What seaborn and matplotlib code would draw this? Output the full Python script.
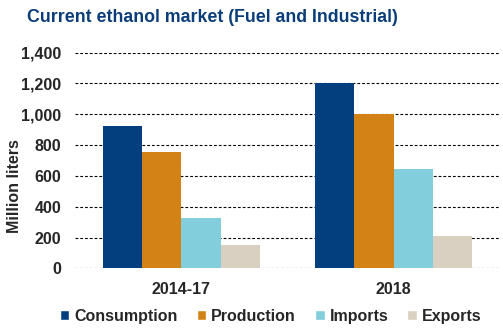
import matplotlib
matplotlib.use("Agg")
import matplotlib.pyplot as plt
import seaborn as sns
import pandas as pd
from matplotlib.patches import Patch

periods = ["2014-17", "2018"]
series = ["Consumption", "Production", "Imports", "Exports"]
consumption = [925, 1200]
production = [757, 1000]
imports = [328, 645]
exports = [152, 212]
colors = ["#033f7f", "#d38316", "#82cedd", "#d9d0c1"]
yticks = [0, 200, 400, 600, 800, 1000, 1200, 1400]

rows = []
for name, vals in zip(series, [consumption, production, imports, exports]):
    for p, v in zip(periods, vals):
        rows.append({"Period": p, "Series": name, "Value": v})
df = pd.DataFrame(rows)

sns.set_theme(style="white")
plt.rcParams["font.family"] = ["Liberation Sans", "DejaVu Sans"]

fig = plt.figure(figsize=(5.03, 3.31), dpi=100)
ax = fig.add_axes([0.149, 0.189, 0.845, 0.652])
sns.barplot(data=df, x="Period", y="Value", hue="Series", palette=colors,
            order=periods, hue_order=series, width=0.74, saturation=1,
            ax=ax, legend=False, linewidth=0)

ax.set_ylim(0, 1400)
ax.set_xlim(-0.5, 1.5)
ax.set_yticks(yticks)
ax.set_yticklabels([f"{t:,}" for t in yticks], fontsize=11.5, fontweight="bold")
ax.set_xticks(range(len(periods)))
ax.set_xticklabels(periods, fontsize=11.5, fontweight="bold")
ax.tick_params(axis="both", length=0, pad=10)
ax.tick_params(axis="x", pad=10)
ax.yaxis.grid(True, linestyle=(0, (2.5, 1.8)), color="black", linewidth=0.8)
ax.set_axisbelow(True)
for s in ax.spines.values():
    s.set_visible(False)
ax.set_xlabel("")
ax.set_ylabel("Million liters", fontsize=11.5, fontweight="bold")
ax.yaxis.set_label_coords(-0.124, 0.38)

fig.text(0.054, 0.948, "Current ethanol market (Fuel and Industrial)",
         fontsize=12.8, fontweight="bold", color="#0a3d7a", va="center")

handles = [Patch(facecolor=c, label=s) for c, s in zip(colors, series)]
fig.legend(handles=handles, loc="center", bbox_to_anchor=(0.538, 0.045), ncol=4,
           frameon=False, prop={"size": 11.5, "weight": "bold"},
           handlelength=0.6, handleheight=0.6, handletextpad=0.3, columnspacing=1.2)

fig.savefig("out.png", dpi=100)
